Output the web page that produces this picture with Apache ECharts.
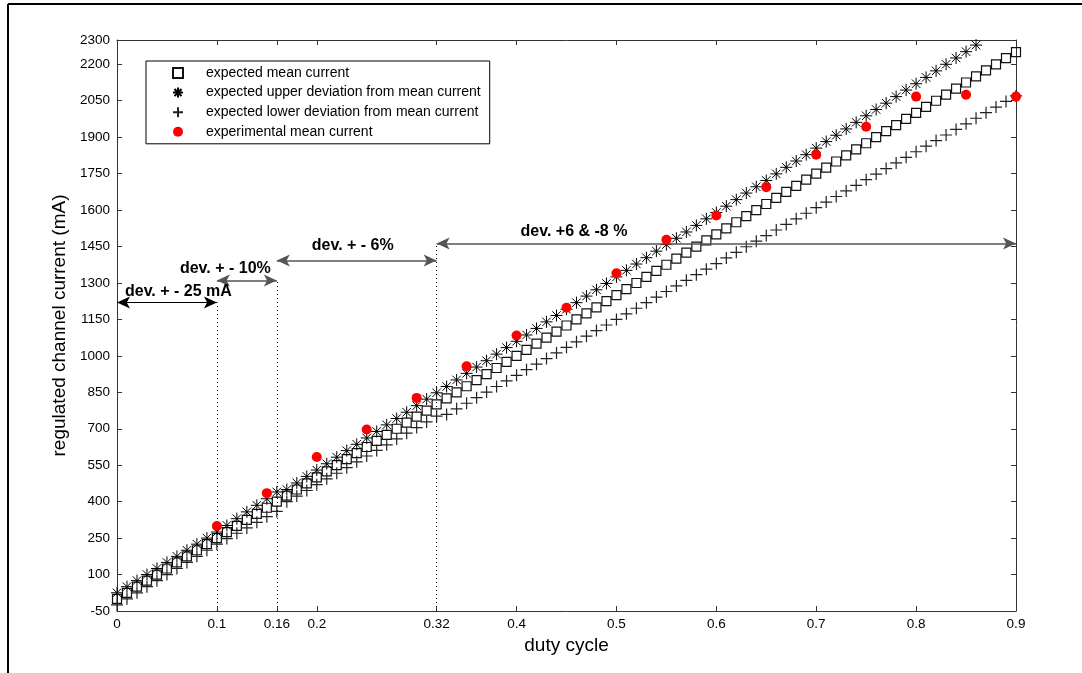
<!DOCTYPE html>
<html><head><meta charset="utf-8">
<script src="https://cdn.jsdelivr.net/npm/echarts@6/dist/echarts.min.js"></script>
<style>html,body{margin:0;padding:0;background:#fff;}#c{width:1082px;height:673px;}</style>
</head><body><div id="c"></div>
<script>
const duty = [0,0.01,0.02,0.03,0.04,0.05,0.06,0.07,0.08,0.09,
  0.1,0.11,0.12,0.13,0.14,0.15,0.16,0.17,0.18,0.19,
  0.2,0.21,0.22,0.23,0.24,0.25,0.26,0.27,0.28,0.29,
  0.3,0.31,0.32,0.33,0.34,0.35,0.36,0.37,0.38,0.39,
  0.4,0.41,0.42,0.43,0.44,0.45,0.46,0.47,0.48,0.49,
  0.5,0.51,0.52,0.53,0.54,0.55,0.56,0.57,0.58,0.59,
  0.6,0.61,0.62,0.63,0.64,0.65,0.66,0.67,0.68,0.69,
  0.7,0.71,0.72,0.73,0.74,0.75,0.76,0.77,0.78,0.79,
  0.8,0.81,0.82,0.83,0.84,0.85,0.86,0.87,0.88,0.89,0.9];
const meanCurrent = [0,25,50,75,100,125,150,175,200,225,
  250,275,300,325,350,375,400,425,450,475,
  500,525,550,575,600,625,650,675,700,725,
  750,775,800,825,850,875,900,925,950,975,
  1000,1025,1050,1075,1100,1125,1150,1175,1200,1225,
  1250,1275,1300,1325,1350,1375,1400,1425,1450,1475,
  1500,1525,1550,1575,1600,1625,1650,1675,1700,1725,
  1750,1775,1800,1825,1850,1875,1900,1925,1950,1975,
  2000,2025,2050,2075,2100,2125,2150,2175,2200,2225,2250];
const upperDev = [25,50,75,100,125,150,175,200,225,250,
  275,302,330,358,385,412,440,450,477,504,
  530,556,583,610,636,662,689,716,742,768,
  795,822,848,874,901,928,954,980,1007,1034,
  1060,1086,1113,1140,1166,1192,1219,1246,1272,1298,
  1325,1352,1378,1404,1431,1458,1484,1510,1537,1564,
  1590,1616,1643,1670,1696,1722,1749,1776,1802,1828,
  1855,1882,1908,1934,1961,1988,2014,2040,2067,2094,
  2120,2146,2173,2200,2226,2252,2279];
const lowerDev = [-25,0,25,50,75,100,125,150,175,200,
  225,248,270,292,315,338,360,400,423,446,
  470,494,517,540,564,588,611,634,658,682,
  705,728,752,759,782,805,828,851,874,897,
  920,943,966,989,1012,1035,1058,1081,1104,1127,
  1150,1173,1196,1219,1242,1265,1288,1311,1334,1357,
  1380,1403,1426,1449,1472,1495,1518,1541,1564,1587,
  1610,1633,1656,1679,1702,1725,1748,1771,1794,1817,
  1840,1863,1886,1909,1932,1955,1978,2001,2024,2047,2070];
const expDuty = [0.1,0.15,0.2,0.25,0.3,0.35,0.4,0.45,0.5,0.55,0.6,0.65,0.7,0.75,0.8,0.85,0.9];
const expCurrent = [300,435,584,697,827,957,1084,1198,1340,1478,1578,1694,1828,1943,2067,2075,2067];
const xTicks = [0,0.1,0.16,0.2,0.32,0.4,0.5,0.6,0.7,0.8,0.9];
const yTicks = [-50,100,250,400,550,700,850,1000,1150,1300,1450,1600,1750,1900,2050,2200,2300];
const seriesNames = ['expected mean current','expected upper deviation from mean current',
  'expected lower deviation from mean current','experimental mean current'];
const zoneLabels = ['dev. + - 25 mA','dev. + - 10%','dev. + - 6%','dev. +6 & -8 %'];
const zoneBounds = [[0,0.1],[0.1,0.16],[0.16,0.32],[0.32,0.9]];
const zoneArrowY = [1220,1310,1393,1462];
const zoneLabelAnchor = [[0.008,1265],[0.063,1360],[0.195,1454],[0.404,1512]];

const FONT = '"Liberation Sans", Arial, sans-serif';
const pairs = (xs, ys) => ys.map((v, i) => [xs[i], v]);

const STAR = 'path://M0,-10L0,10M-10,0L10,0M-7.07,-7.07L7.07,7.07M-7.07,7.07L7.07,-7.07';
const PLUS = 'path://M0,-10L0,10M-10,0L10,0';

const arrowLines = zoneBounds.map((b, i) => ([
  {coord: [b[0], zoneArrowY[i]], lineStyle: {color: i === 0 ? '#000' : '#555', width: i === 0 ? 1.2 : 1.6, type: 'solid'}},
  {coord: [b[1], zoneArrowY[i]]}
]));
const dottedLines = zoneBounds.slice(0, 3).map((b, i) => ([
  {coord: [b[1], -50], symbol: 'none', lineStyle: {color: '#000', width: 1, type: [1, 3]}},
  {coord: [b[1], zoneArrowY[i + (i === 2 ? 1 : 0)]], symbol: 'none'}
]));

const chart = echarts.init(document.getElementById('c'), null, {renderer: 'canvas'});
const axisColor = '#333';
const plain = v => String(v);
const option = {
  animation: false,
  backgroundColor: '#fff',
  grid: {left: 117, right: 66, top: 40, bottom: 62, containLabel: false},
  legend: {
    orient: 'vertical', left: 146, top: 61,
    padding: [5, 9, 5, 26],
    itemWidth: 10, itemHeight: 10, itemGap: 5.6,
    borderColor: '#000', borderWidth: 1, backgroundColor: '#fff',
    selectedMode: false,
    textStyle: {fontFamily: FONT, fontSize: 14, color: '#000', lineHeight: 14, padding: [0, 0, 0, 18]},
    data: seriesNames
  },
  xAxis: [{
    type: 'value', min: 0, max: 0.9, position: 'bottom',
    name: 'duty cycle', nameLocation: 'middle', nameGap: 24,
    nameTextStyle: {fontFamily: FONT, fontSize: 19, color: '#000'},
    axisLine: {onZero: false, lineStyle: {color: axisColor, width: 1}},
    axisTick: {inside: true, length: 5, customValues: xTicks, lineStyle: {color: axisColor}},
    axisLabel: {customValues: xTicks, formatter: plain, fontFamily: FONT, fontSize: 13.5, color: '#000', margin: 6},
    splitLine: {show: false}
  }, {
    type: 'value', min: 0, max: 0.9, position: 'top',
    axisLine: {onZero: false, lineStyle: {color: axisColor, width: 1}},
    axisTick: {inside: true, length: 5, customValues: xTicks, lineStyle: {color: axisColor}},
    axisLabel: {show: false}, splitLine: {show: false}
  }],
  yAxis: [{
    type: 'value', min: -50, max: 2300, position: 'left',
    name: 'regulated channel current (mA)', nameLocation: 'middle', nameGap: 40,
    nameTextStyle: {fontFamily: FONT, fontSize: 19, color: '#000'},
    axisLine: {show: true, onZero: false, lineStyle: {color: axisColor, width: 1}},
    axisTick: {show: true, inside: true, length: 5, customValues: yTicks, lineStyle: {color: axisColor}},
    axisLabel: {customValues: yTicks, formatter: plain, fontFamily: FONT, fontSize: 13.5, color: '#000', margin: 7},
    splitLine: {show: false}
  }, {
    type: 'value', min: -50, max: 2300, position: 'right',
    axisLine: {show: true, onZero: false, lineStyle: {color: axisColor, width: 1}},
    axisTick: {show: true, inside: true, length: 5, customValues: yTicks, lineStyle: {color: axisColor}},
    axisLabel: {show: false}, splitLine: {show: false}
  }],
  series: [{
    name: seriesNames[0], type: 'scatter', clip: false,
    symbol: 'rect', symbolSize: 9,
    itemStyle: {color: 'rgba(0,0,0,0)', borderColor: '#111', borderWidth: 1.2, opacity: 1},
    data: pairs(duty, meanCurrent), z: 2,
    markLine: {
      silent: true, symbol: ['arrow', 'arrow'], symbolSize: [9, 13],
      label: {show: false}, emphasis: {disabled: true},
      data: arrowLines.concat(dottedLines)
    }
  }, {
    name: seriesNames[1], type: 'scatter', clip: false,
    symbol: STAR, symbolSize: 12,
    itemStyle: {color: 'rgba(0,0,0,0)', borderColor: '#000', borderWidth: 1, opacity: 1},
    data: pairs(duty, upperDev), z: 3
  }, {
    name: seriesNames[2], type: 'scatter', clip: false,
    symbol: PLUS, symbolSize: 12,
    itemStyle: {color: 'rgba(0,0,0,0)', borderColor: '#222', borderWidth: 1.2, opacity: 1},
    data: pairs(duty, lowerDev), z: 3
  }, {
    name: seriesNames[3], type: 'scatter', clip: false,
    symbol: 'circle', symbolSize: 10,
    itemStyle: {color: '#ff0000', opacity: 1},
    data: pairs(expDuty, expCurrent), z: 5
  }],
  graphic: [
    {type: 'line', shape: {x1: 8, y1: 4, x2: 1082, y2: 4}, style: {stroke: '#000', lineWidth: 2}, silent: true},
    {type: 'line', shape: {x1: 8, y1: 4, x2: 8, y2: 673}, style: {stroke: '#000', lineWidth: 2}, silent: true}
  ]
};
chart.setOption(option);

const texts = zoneLabels.map((t, i) => {
  const p = chart.convertToPixel({xAxisIndex: 0, yAxisIndex: 0}, zoneLabelAnchor[i]);
  return {
    type: 'text', x: p[0], y: p[1], silent: true, z: 10,
    style: {text: t, fill: '#000', font: 'bold 16px ' + FONT, align: 'left', verticalAlign: 'middle',
            textAlign: 'left', textVerticalAlign: 'middle'}
  };
});
chart.setOption({graphic: option.graphic.concat(texts)});
</script>
</body></html>
